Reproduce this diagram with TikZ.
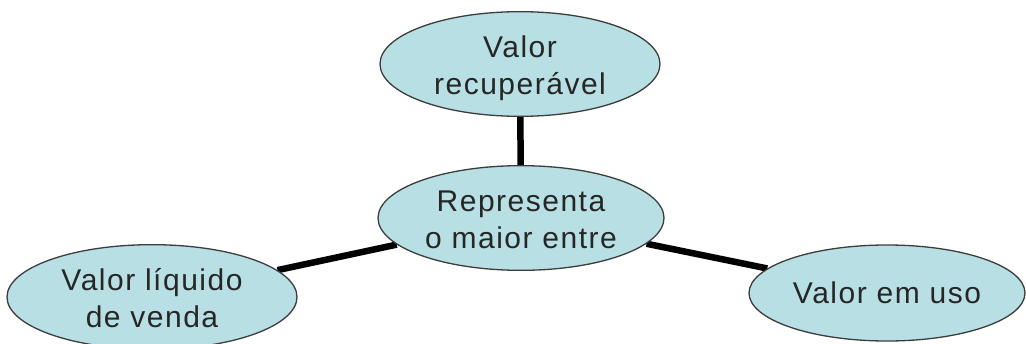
\documentclass[tikz,border=0pt]{standalone}
\usepackage{fontspec}
\setmainfont[LetterSpace=5]{Liberation Sans}
\usetikzlibrary{shapes.geometric,backgrounds}
\definecolor{ellfill}{RGB}{184,224,228}
\definecolor{ellline}{RGB}{60,60,60}
\newcommand\twolines[1]{\raisebox{-5pt}[\height][\depth]{\begin{tabular}{@{}c@{}}#1\end{tabular}}}
\tikzset{
  bubble/.style={ellipse, draw=ellline, line width=1.3pt, fill=ellfill, inner sep=0pt,
    align=center, font=\fontsize{30}{37}\selectfont, text=black!85},
  link/.style={line width=6.5pt, black}
}
\begin{document}
\begin{tikzpicture}[x=1pt,y=-1pt]
\useasboundingbox (0,0) rectangle (1026,343);
\clip (0,0) rectangle (1026,343);
\node[bubble, minimum width=280pt, minimum height=104pt] (top) at (520,64) {\twolines{Valor\\recuperável}};
\node[bubble, minimum width=286pt, minimum height=100pt] (mid) at (521,218) {\twolines{Representa\\o maior entre}};
\node[bubble, minimum width=290pt, minimum height=104pt] (left) at (152,297) {\twolines{Valor líquido\\de venda}};
\node[bubble, minimum width=276pt, minimum height=96pt] (right) at (887,293) {Valor em uso};
\begin{scope}[on background layer]
\draw[link] (top) -- (mid);
\draw[link] (left) -- (mid);
\draw[link] (right) -- (mid);
\end{scope}
\end{tikzpicture}
\end{document}
